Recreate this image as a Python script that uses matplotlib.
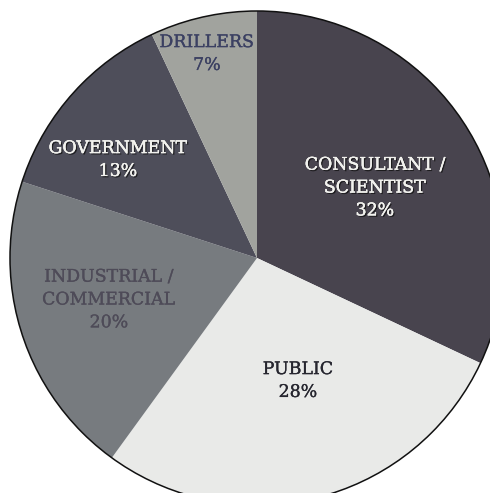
import matplotlib.pyplot as plt
import matplotlib.patheffects as pe
from matplotlib.patches import Circle

# share of respondents by sector
sectors = ['CONSULTANT /\nSCIENTIST', 'PUBLIC', 'INDUSTRIAL /\nCOMMERCIAL',
           'GOVERNMENT', 'DRILLERS']
shares = [32, 28, 20, 13, 7]

colors = ['#48444e', '#e9eae8', '#777b7f', '#4e4e5a', '#a1a39e']
text_colors = ['#f2f2ee', '#26262f', '#4e4b58', '#f2f2ee', '#3b4062']
label_xy = [(375, 305), (298, 112), (109, 193), (118, 333), (207, 439)]

fig = plt.figure(figsize=(4.9, 4.93), dpi=100)
ax = fig.add_axes([0, 0, 1, 1])

cx, cy, r = 257, 235, 247
ax.pie(shares, colors=colors, startangle=90, counterclock=False,
       center=(cx, cy), radius=r, frame=True,
       wedgeprops=dict(linewidth=0))
ax.set_xlim(0, 490)
ax.set_ylim(0, 493)
ax.set_aspect('equal')
ax.axis('off')
ax.add_patch(Circle((cx, cy), r, fill=False, edgecolor='#111111', linewidth=1.1))

for name, val, tc, (x, y) in zip(sectors, shares, text_colors, label_xy):
    t = ax.text(x, y, f'{name}\n{val}%', ha='center', va='center',
                fontsize=12.5, family='DejaVu Serif', color=tc,
                linespacing=1.45)
    effects = [pe.Stroke(linewidth=0.2, foreground=tc), pe.Normal()]
    if tc == '#f2f2ee':
        effects = [pe.withSimplePatchShadow(offset=(1, -1), shadow_rgbFace='#111111', alpha=0.8)] + effects
    t.set_path_effects(effects)

fig.savefig('out.png', dpi=100)
